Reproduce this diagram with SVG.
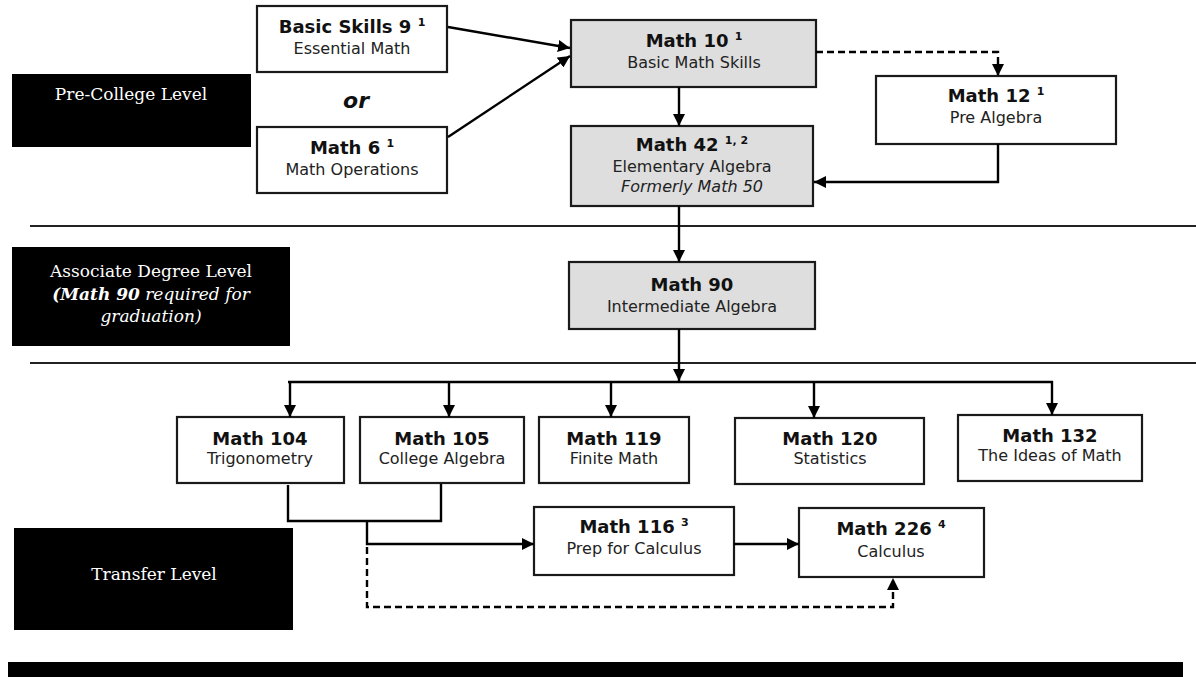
<svg xmlns="http://www.w3.org/2000/svg" width="1196" height="677" viewBox="0 0 1196 677">
<defs>
<style>
.box{fill:#fff;stroke:#1a1a1a;stroke-width:2.2}
.gbox{fill:#dedede;stroke:#1a1a1a;stroke-width:2.2}
.lvl{fill:#000}
.t{font-family:"DejaVu Sans",Verdana,sans-serif;font-weight:bold;font-size:18px;fill:#111;text-anchor:middle}
.s{font-family:"DejaVu Sans",Verdana,sans-serif;font-size:16px;fill:#222;text-anchor:middle}
.sup{font-size:11px}
.lt{font-family:"DejaVu Serif","Liberation Serif",serif;font-size:17px;fill:#fff;text-anchor:middle}
.ln{fill:none;stroke:#000;stroke-width:2.4}
.dash{stroke-dasharray:7 4}
.sep{stroke:#222;stroke-width:2}
</style>
<marker id="ah" viewBox="0 0 10 10" refX="10" refY="5" markerWidth="12" markerHeight="12" markerUnits="userSpaceOnUse" orient="auto">
<path d="M0,0 L10,5 L0,10 Z" fill="#000"/>
</marker>
</defs>
<rect width="1196" height="677" fill="#fff"/>

<g id="separators">
<line class="sep" x1="30" y1="226" x2="1196" y2="226"/>
<line class="sep" x1="30" y1="363" x2="1196" y2="363"/>
</g>

<g id="level-precollege">
<rect class="lvl" x="12" y="74" width="239" height="73"/>
<text class="lt" x="131" y="100" font-size="16">Pre-College Level</text>
</g>
<g id="level-associate">
<rect class="lvl" x="12" y="247" width="278" height="99"/>
<text class="lt" x="151" y="277">Associate Degree Level</text>
<text class="lt" x="151" y="300" font-style="italic"><tspan font-weight="bold">(Math 90</tspan> required for</text>
<text class="lt" x="151" y="322" font-style="italic">graduation)</text>
</g>
<g id="level-transfer">
<rect class="lvl" x="14" y="528" width="279" height="102"/>
<text class="lt" x="154" y="580">Transfer Level</text>
</g>
<g id="bottom-bar">
<rect class="lvl" x="8" y="662" width="1175" height="15"/>
</g>

<g id="or-label">
<text x="356" y="108" font-family="DejaVu Sans,Verdana,sans-serif" font-weight="bold" font-style="italic" font-size="22" text-anchor="middle" fill="#111">or</text>
</g>

<g id="basic-skills-9">
<rect class="box" x="257" y="6" width="190" height="66"/>
<text class="t" x="352" y="33">Basic Skills 9 <tspan class="sup" dy="-7">1</tspan></text>
<text class="s" x="352" y="54">Essential Math</text>
</g>
<g id="math-6">
<rect class="box" x="257" y="127" width="190" height="66"/>
<text class="t" x="352" y="154">Math 6 <tspan class="sup" dy="-7">1</tspan></text>
<text class="s" x="352" y="175">Math Operations</text>
</g>
<g id="math-10">
<rect class="gbox" x="571" y="20" width="245" height="67"/>
<text class="t" x="694" y="47">Math 10 <tspan class="sup" dy="-7">1</tspan></text>
<text class="s" x="694" y="68">Basic Math Skills</text>
</g>
<g id="math-12">
<rect class="box" x="876" y="76" width="240" height="68"/>
<text class="t" x="996" y="102">Math 12 <tspan class="sup" dy="-7">1</tspan></text>
<text class="s" x="996" y="123">Pre Algebra</text>
</g>
<g id="math-42">
<rect class="gbox" x="571" y="126" width="242" height="80"/>
<text class="t" x="692" y="151">Math 42 <tspan class="sup" dy="-7">1, 2</tspan></text>
<text class="s" x="692" y="172">Elementary Algebra</text>
<text class="s" x="692" y="192" font-style="italic">Formerly Math 50</text>
</g>
<g id="math-90">
<rect class="gbox" x="569" y="262" width="246" height="67"/>
<text class="t" x="692" y="291" font-size="20">Math 90</text>
<text class="s" x="692" y="312">Intermediate Algebra</text>
</g>
<g id="math-104">
<rect class="box" x="177" y="417" width="167" height="66"/>
<text class="t" x="260" y="445">Math 104</text>
<text class="s" x="260" y="464">Trigonometry</text>
</g>
<g id="math-105">
<rect class="box" x="360" y="417" width="164" height="66"/>
<text class="t" x="442" y="445">Math 105</text>
<text class="s" x="442" y="464">College Algebra</text>
</g>
<g id="math-119">
<rect class="box" x="539" y="417" width="150" height="66"/>
<text class="t" x="614" y="445">Math 119</text>
<text class="s" x="614" y="464">Finite Math</text>
</g>
<g id="math-120">
<rect class="box" x="735" y="418" width="189" height="66"/>
<text class="t" x="830" y="445">Math 120</text>
<text class="s" x="830" y="464">Statistics</text>
</g>
<g id="math-132">
<rect class="box" x="958" y="415" width="184" height="66"/>
<text class="t" x="1050" y="442">Math 132</text>
<text class="s" x="1050" y="461">The Ideas of Math</text>
</g>
<g id="math-116">
<rect class="box" x="534" y="507" width="200" height="68"/>
<text class="t" x="634" y="533">Math 116 <tspan class="sup" dy="-7">3</tspan></text>
<text class="s" x="634" y="554">Prep for Calculus</text>
</g>
<g id="math-226">
<rect class="box" x="799" y="508" width="185" height="69"/>
<text class="t" x="891" y="535">Math 226 <tspan class="sup" dy="-7">4</tspan></text>
<text class="s" x="891" y="557">Calculus</text>
</g>

<g id="connectors">
<line class="ln" x1="448" y1="27" x2="570" y2="48" marker-end="url(#ah)"/>
<line class="ln" x1="448" y1="137" x2="570" y2="56" marker-end="url(#ah)"/>
<polyline class="ln dash" points="816,52 998,52 998,76" marker-end="url(#ah)"/>
<line class="ln" x1="679" y1="87" x2="679" y2="126" marker-end="url(#ah)"/>
<polyline class="ln" points="998,144 998,182 814,182" marker-end="url(#ah)"/>
<line class="ln" x1="679" y1="206" x2="679" y2="262" marker-end="url(#ah)"/>
<line class="ln" x1="679" y1="329" x2="679" y2="381" marker-end="url(#ah)"/>
<line class="ln" x1="288" y1="382" x2="1053" y2="382"/>
<line class="ln" x1="290" y1="381" x2="290" y2="417" marker-end="url(#ah)"/>
<line class="ln" x1="449" y1="381" x2="449" y2="417" marker-end="url(#ah)"/>
<line class="ln" x1="611" y1="381" x2="611" y2="417" marker-end="url(#ah)"/>
<line class="ln" x1="814" y1="381" x2="814" y2="418" marker-end="url(#ah)"/>
<line class="ln" x1="1052" y1="381" x2="1052" y2="415" marker-end="url(#ah)"/>
<polyline class="ln" points="288,485 288,521 441,521 441,484"/>
<polyline class="ln" points="367,521 367,544 534,544" marker-end="url(#ah)"/>
<polyline class="ln dash" points="367,547 367,607 893,607 893,578" marker-end="url(#ah)"/>
<line class="ln" x1="734" y1="544" x2="799" y2="544" marker-end="url(#ah)"/>
</g>
</svg>
